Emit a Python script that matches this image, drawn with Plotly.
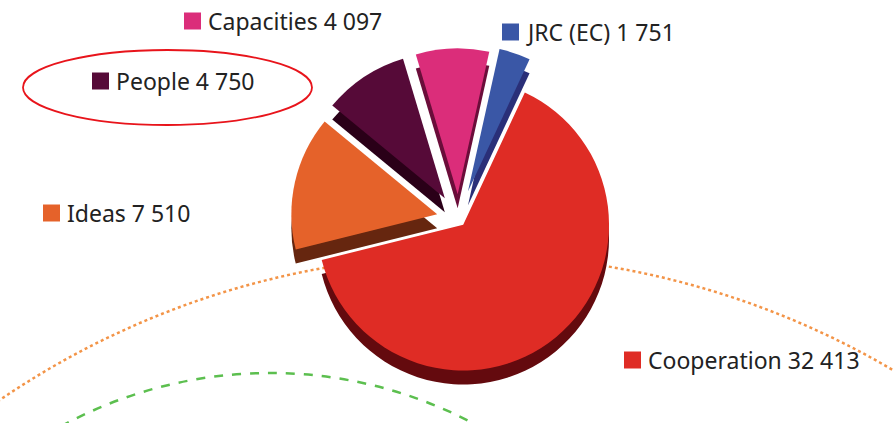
import plotly.graph_objects as go

W, H = 893, 423

categories = ["Cooperation", "Ideas", "People", "Capacities", "JRC (EC)"]
values = [32413, 7510, 4750, 4097, 1751]
value_labels = ["32 413", "7 510", "4 750", "4 097", "1 751"]
top_colors = ["#DF2C25", "#E5622A", "#560A38", "#DB2D7A", "#3A57A6"]
side_colors = ["#640A0E", "#66260F", "#2A0018", "#6B0D3A", "#2A2F78"]
pulls = [0.05, 0.15, 0.17, 0.17, 0.2]

def px(x):
    return x / W

def py(y):
    return 1 - y / H

fig = go.Figure()

# depth (side) layer, shifted down
shift = 14
top_y = (py(394), py(44))
cx_dom = (0.2235, 0.8035)
fig.add_trace(go.Pie(
    labels=categories, values=values, sort=False, direction="clockwise",
    rotation=25, pull=pulls, textinfo="none", hoverinfo="skip",
    marker=dict(colors=side_colors, line=dict(width=0)),
    domain=dict(x=list(cx_dom), y=[top_y[0] - shift / H, top_y[1] - shift / H]),
    showlegend=False,
))
fig.add_trace(go.Pie(
    labels=categories, values=values, sort=False, direction="clockwise",
    rotation=25, pull=pulls, textinfo="none", hoverinfo="skip",
    marker=dict(colors=top_colors, line=dict(width=0)),
    domain=dict(x=list(cx_dom), y=list(top_y)),
    showlegend=False,
))

shapes = []
# decorative background arcs
cx, cy, R = 470, 1090, 835
shapes.append(dict(type="circle", xref="paper", yref="paper", layer="below",
                   x0=px(cx - R), x1=px(cx + R), y0=py(cy + R), y1=py(cy - R),
                   line=dict(color="#F39447", width=2.5, dash="dot")))
cx, cy, R = 270, 809, 436
shapes.append(dict(type="circle", xref="paper", yref="paper", layer="below",
                   x0=px(cx - R), x1=px(cx + R), y0=py(cy + R), y1=py(cy - R),
                   line=dict(color="#5CBF4F", width=2.5, dash="dash")))

# label positions (square left x, center y)
label_pos = {
    "Capacities": (184, 21),
    "JRC (EC)": (502, 32),
    "People": (92, 81),
    "Ideas": (43, 213),
    "Cooperation": (624, 360),
}
annotations = []
sq = 17
for cat, val, col in zip(categories, value_labels, top_colors):
    x, y = label_pos[cat]
    shapes.append(dict(type="rect", xref="paper", yref="paper",
                       x0=px(x), x1=px(x + sq), y0=py(y + sq / 2), y1=py(y - sq / 2),
                       fillcolor=col, line=dict(width=0)))
    annotations.append(dict(xref="paper", yref="paper", x=px(x + sq + 5), y=py(y),
                            xanchor="left", yanchor="middle", showarrow=False,
                            text=f"{cat} {val}",
                            font=dict(family="Noto Sans", size=23, color="#222222")))

# red highlight ellipse around People
shapes.append(dict(type="circle", xref="paper", yref="paper",
                   x0=px(23), x1=px(312), y0=py(125), y1=py(50),
                   line=dict(color="#E8141B", width=1.8)))

fig.update_layout(
    width=W, height=H,
    margin=dict(l=0, r=0, t=0, b=0),
    paper_bgcolor="white", plot_bgcolor="white",
    shapes=shapes, annotations=annotations,
)

fig.write_html("out.html", config={"displayModeBar": False},
               post_script="document.body.style.margin='0';document.body.style.overflow='hidden';")
